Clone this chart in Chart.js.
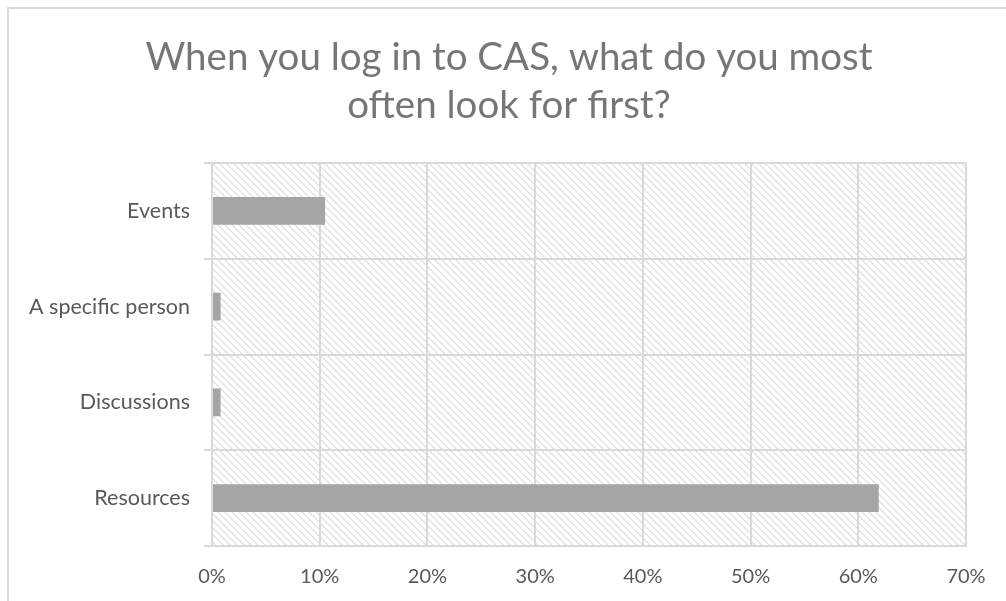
<!DOCTYPE html>
<html>
<head>
<meta charset="utf-8">
<script src="https://cdn.jsdelivr.net/npm/chart.js@4/dist/chart.umd.min.js"></script>
<style>
  html, body { margin: 0; padding: 0; background: #ffffff; }
  #wrap { position: relative; width: 1006px; height: 601px; }
</style>
</head>
<body>
<div id="wrap"><canvas id="c" width="1006" height="601"></canvas></div>
<script>
// Survey answers, listed top to bottom
const categories = ['Events', 'A specific person', 'Discussions', 'Resources'];
// Share of respondents (%)
const shares = [10.5, 0.8, 0.8, 61.9];
// Value axis range and step (%)
const axisMin = 0;
const axisMax = 70;
const axisStep = 10;
const titleLines = ['When you log in to CAS, what do you most', 'often look for first?'];

const textColor = '#595959';
const titleColor = '#767676';
const gridColor = '#d9d9d9';
const barColor = '#a5a5a5';

// Light diagonal hatch tile used for the plot background
function makeHatch() {
  const s = 7;
  const t = document.createElement('canvas');
  t.width = s; t.height = s;
  const g = t.getContext('2d');
  g.fillStyle = '#ffffff';
  g.fillRect(0, 0, s, s);
  g.strokeStyle = '#dcdcdc';
  g.lineWidth = 1.2;
  g.beginPath();
  g.moveTo(-1, -1); g.lineTo(s + 1, s + 1);
  g.moveTo(-1, s - 1); g.lineTo(1, s + 1);
  g.moveTo(s - 1, -1); g.lineTo(s + 1, 1);
  g.stroke();
  return t;
}

// Outer frame, two-line centred title and hatched plot background
const frameAndHatch = {
  id: 'frameAndHatch',
  beforeDraw(chart) {
    const ctx = chart.ctx;
    const a = chart.chartArea;
    ctx.save();
    ctx.fillStyle = '#ffffff';
    ctx.fillRect(0, 0, chart.width, chart.height);
    ctx.strokeStyle = gridColor;
    ctx.lineWidth = 2;
    ctx.strokeRect(8, 8, chart.width + 20, chart.height + 20);
    ctx.fillStyle = ctx.createPattern(makeHatch(), 'repeat');
    ctx.fillRect(a.left, a.top, a.right - a.left, a.bottom - a.top);
    ctx.fillStyle = titleColor;
    ctx.font = 'normal 38.5px Lato';
    ctx.textAlign = 'center';
    ctx.textBaseline = 'alphabetic';
    ctx.fillText(titleLines[0], 509, 70);
    ctx.fillText(titleLines[1], 509, 118);
    ctx.restore();
  }
};

new Chart(document.getElementById('c'), {
  type: 'bar',
  data: {
    labels: categories,
    datasets: [{
      data: shares,
      backgroundColor: barColor,
      borderWidth: 0,
      barPercentage: 1,
      categoryPercentage: 0.29
    }]
  },
  options: {
    indexAxis: 'y',
    responsive: false,
    animation: false,
    devicePixelRatio: 1,
    layout: { padding: { left: 10, right: 40, top: 163, bottom: 0 } },
    plugins: {
      legend: { display: false },
      tooltip: { enabled: false },
      title: { display: false }
    },
    scales: {
      x: {
        type: 'linear',
        min: axisMin,
        max: axisMax,
        ticks: {
          stepSize: axisStep,
          color: textColor,
          font: { family: 'Lato', size: 20 },
          padding: 19,
          callback: v => v + '%'
        },
        grid: { color: gridColor, lineWidth: 2, drawTicks: false },
        border: { display: true, color: gridColor, width: 2 },
        afterFit(s) { s.height = 55; }
      },
      y: {
        type: 'category',
        ticks: {
          color: textColor,
          font: { family: 'Lato', size: 21.5 },
          padding: 14
        },
        grid: { color: gridColor, lineWidth: 2, offset: true, tickLength: 8 },
        border: { display: true, color: gridColor, width: 2 },
        afterFit(s) { s.width = 202; }
      }
    }
  },
  plugins: [frameAndHatch]
});
</script>
</body>
</html>
